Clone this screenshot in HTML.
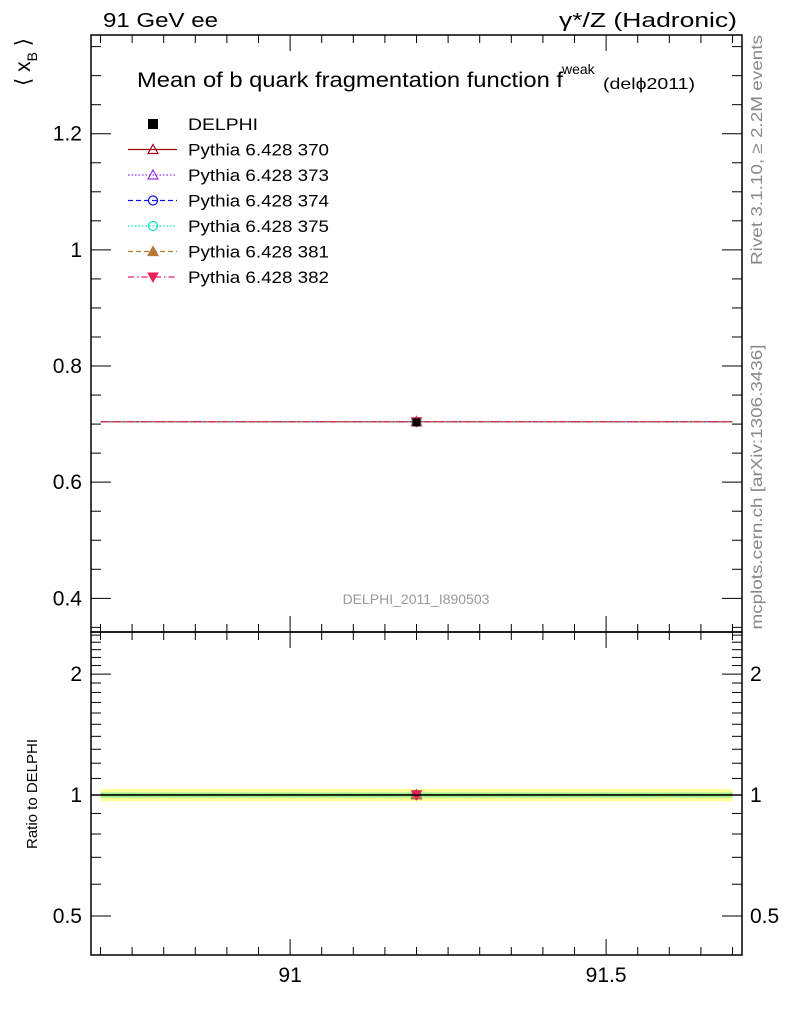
<!DOCTYPE html>
<html><head><meta charset="utf-8"><style>
body{margin:0;background:#fff}
svg{display:block;font-family:"Liberation Sans",sans-serif}
</style></head><body>
<svg id="c" width="786" height="1024" xmlns="http://www.w3.org/2000/svg"></svg>
<script>
const categories=[91.2];
const xEdges=[90.7,91.7];
const delphiValues=[0.703];
const delphiErr=[0.003];
const bandOuter=[0.035];
const bandInner=[0.015];
const seriesNames=["Pythia 6.428 370","Pythia 6.428 373","Pythia 6.428 374","Pythia 6.428 375","Pythia 6.428 381","Pythia 6.428 382"];
const seriesValues=[[0.704],[0.704],[0.704],[0.704],[0.704],[0.704]];
const mainTicks=[0.4,0.6,0.8,1,1.2];
const mainTickLabels=["0.4","0.6","0.8","1","1.2"];
const ratioTicks=[0.5,1,2];
const ratioTickLabels=["0.5","1","2"];
const xTicks=[91,91.5];
const xTickLabels=["91","91.5"];

const colors=["#a00018","#9a30e0","#1010ee","#10e0c8","#b87838","#e8205a"];
const dashes=["","1.5,2","5,3","1.5,2","5,3","6,3,1.5,3"];
const markers=["tri","tri","circ","circ","trif","trid"];
const L=91,R=742,T=35,M=632,B=955;
const xs=v=>L+(v-90.685)/(91.715-90.685)*(R-L);
const ym=v=>M-(v-0.342)/(1.37-0.342)*(M-T);
const lr0=Math.log10(0.40),lr1=Math.log10(2.545);
const yr=v=>B-(Math.log10(v)-lr0)/(lr1-lr0)*(B-M);
const svg=document.getElementById('c');
const NS="http://www.w3.org/2000/svg";
function el(tag,at,parent,name,txt){const e=document.createElementNS(NS,tag);for(const k in at)e.setAttribute(k,at[k]);


if(txt!==undefined)e.textContent=txt;(parent||svg).appendChild(e);return e;}
function marker(kind,x,y,col,g,name){
 if(kind=="tri"||kind=="trif")el('polygon',{points:`${x},${y-5} ${x-5},${y+4} ${x+5},${y+4}`,fill:kind=="trif"?col:'none',stroke:col,'stroke-width':1.2},g,name);
 else if(kind=="trid")el('polygon',{points:`${x},${y+5} ${x-5},${y-4} ${x+5},${y-4}`,fill:col,stroke:col},g,name);
 else el('circle',{cx:x,cy:y,r:4.5,fill:'none',stroke:col,'stroke-width':1.2},g,name);
}
// ratio band
const bandG=el('g',{},svg,'ratio-band');
el('rect',{x:xs(xEdges[0]),y:yr(1+bandOuter[0]),width:xs(xEdges[1])-xs(xEdges[0]),height:yr(1-bandOuter[0])-yr(1+bandOuter[0]),fill:'#ffff99'},bandG,'ratio-band-outer');
el('rect',{x:xs(xEdges[0]),y:yr(1+bandInner[0]),width:xs(xEdges[1])-xs(xEdges[0]),height:yr(1-bandInner[0])-yr(1+bandInner[0]),fill:'#99ee88'},bandG,'ratio-band-inner');
// series
seriesValues.forEach((vals,i)=>{
 const g=el('g',{},svg,'series-'+seriesNames[i].split(' ').pop());
 vals.forEach((v,j)=>{
  el('line',{x1:xs(xEdges[0]),x2:xs(xEdges[1]),y1:ym(v),y2:ym(v),stroke:colors[i],'stroke-width':1.2,'stroke-dasharray':dashes[i]},g,'main-line');
  const r=v/delphiValues[j];
  el('line',{x1:xs(xEdges[0]),x2:xs(xEdges[1]),y1:yr(r),y2:yr(r),stroke:colors[i],'stroke-width':1.2,'stroke-dasharray':dashes[i]},g,'ratio-line');
  marker(markers[i],xs(categories[j]),ym(v),colors[i],g,'main-marker');
  marker(markers[i],xs(categories[j]),yr(r),colors[i],g,'ratio-marker');
 });
});
// data
categories.forEach((c,j)=>{
 const g=el('g',{},svg,'delphi-point');
 el('rect',{x:xs(c)-4,y:ym(delphiValues[j])-4,width:8,height:8,fill:'#000'},g,'delphi-marker');
 el('line',{x1:xs(c),x2:xs(c),y1:ym(delphiValues[j]+delphiErr[j]),y2:ym(delphiValues[j]-delphiErr[j]),stroke:'#000'},g,'delphi-error');
});
el('line',{x1:L,x2:R,y1:yr(1),y2:yr(1),stroke:'#000','stroke-width':1.5},svg,'ratio-unity-line');
// frames
el('rect',{x:L,y:T,width:R-L,height:M-T,fill:'none',stroke:'#000','stroke-width':1.5},svg,'main-frame');
el('rect',{x:L,y:M,width:R-L,height:B-M,fill:'none',stroke:'#000','stroke-width':1.5},svg,'ratio-frame');
const ax=el('g',{stroke:'#000','stroke-width':1},svg,'axes-ticks');
for(let v=90.7;v<=91.7001;v+=0.05){const x=xs(v),maj=Math.abs(v*2-Math.round(v*2))<1e-6,len=maj?16:8;
 [T,M].forEach(y=>el('line',{x1:x,x2:x,y1:y,y2:y+len},ax,'x-tick'));
 [M,B].forEach(y=>el('line',{x1:x,x2:x,y1:y,y2:y-len},ax,'x-tick'));}
xTicks.forEach((v,i)=>el('text',{x:xs(v),y:982,'font-size':21,'text-anchor':'middle'},svg,'x-tick-label',xTickLabels[i]));
for(let v=0.35;v<=1.36;v+=0.05){const y=ym(v),maj=Math.abs(v*5-Math.round(v*5))<1e-6,len=maj?20:10;
 el('line',{x1:L,x2:L+len,y1:y,y2:y},ax,'main-y-tick');el('line',{x1:R,x2:R-len,y1:y,y2:y},ax,'main-y-tick');}
mainTicks.forEach((v,i)=>el('text',{x:82,y:ym(v)+7,'font-size':21,'text-anchor':'end'},svg,'main-y-tick-label',mainTickLabels[i]));
const rt=[0.4,0.5,0.6,0.7,0.8,0.9,1,1.1,1.2,1.3,1.4,1.5,1.6,1.7,1.8,1.9,2,2.1,2.2,2.3,2.4,2.5];
rt.forEach(v=>{const y=yr(v),maj=ratioTicks.includes(v),len=maj?20:10;
 el('line',{x1:L,x2:L+len,y1:y,y2:y},ax,'ratio-y-tick');el('line',{x1:R,x2:R-len,y1:y,y2:y},ax,'ratio-y-tick');});
ratioTicks.forEach((v,i)=>{el('text',{x:82,y:yr(v)+7,'font-size':21,'text-anchor':'end'},svg,'ratio-y-tick-label',ratioTickLabels[i]);
 el('text',{x:750,y:yr(v)+7,'font-size':21},svg,'ratio-y-tick-label-right',ratioTickLabels[i]);});
// texts
el('text',{x:103,y:27,'font-size':20,textLength:115,lengthAdjust:'spacingAndGlyphs'},svg,'energy-label','91 GeV ee');
el('text',{x:737,y:27,'font-size':20,'text-anchor':'end',textLength:178,lengthAdjust:'spacingAndGlyphs'},svg,'process-label','γ*/Z (Hadronic)');
el('text',{x:137,y:87,'font-size':21,textLength:426,lengthAdjust:'spacingAndGlyphs'},svg,'plot-title','Mean of b quark fragmentation function f');
el('text',{x:562,y:74,'font-size':14},svg,'title-sup','weak');
el('text',{x:603,y:89,'font-size':16,textLength:92,lengthAdjust:'spacingAndGlyphs'},svg,'title-sub','(delϕ2011)');
const yl=el('text',{transform:'translate(30,62) rotate(-90)','font-size':21,'text-anchor':'middle'},svg,'y-axis-title','⟨ x');
el('tspan',{dy:7,'font-size':14},yl,'y-sub','B');el('tspan',{dy:-7},yl,'y-close',' ⟩');
el('text',{transform:'translate(37,794) rotate(-90)','font-size':15,'text-anchor':'middle'},svg,'ratio-axis-title','Ratio to DELPHI');
el('text',{transform:'translate(762,150) rotate(-90)','font-size':16,'text-anchor':'middle',fill:'#888',textLength:230,lengthAdjust:'spacingAndGlyphs'},svg,'rivet-label','Rivet 3.1.10, ≥ 2.2M events');
el('text',{transform:'translate(762,487) rotate(-90)','font-size':16,'text-anchor':'middle',fill:'#888',textLength:285,lengthAdjust:'spacingAndGlyphs'},svg,'mcplots-label','mcplots.cern.ch [arXiv:1306.3436]');
el('text',{x:416,y:604,'font-size':14,'text-anchor':'middle',fill:'#999'},svg,'analysis-label','DELPHI_2011_I890503');
// legend
const lg=el('g',{},svg,'legend');
const ly0=124,ldy=25.5;
el('rect',{x:148,y:ly0-5,width:10,height:10,fill:'#000'},lg,'legend-marker-delphi');
el('text',{x:188,y:ly0+6,'font-size':17,textLength:70,lengthAdjust:'spacingAndGlyphs'},lg,'legend-label-delphi','DELPHI');
seriesNames.forEach((n,i)=>{const y=ly0+ldy*(i+1);
 el('line',{x1:128,x2:177,y1:y,y2:y,stroke:colors[i],'stroke-width':1.2,'stroke-dasharray':dashes[i]},lg,'legend-line');
 marker(markers[i],153,y,colors[i],lg,'legend-marker');
 el('text',{x:188,y:y+6,'font-size':17,textLength:141,lengthAdjust:'spacingAndGlyphs'},lg,'legend-label',n);});
</script>
</body></html>
